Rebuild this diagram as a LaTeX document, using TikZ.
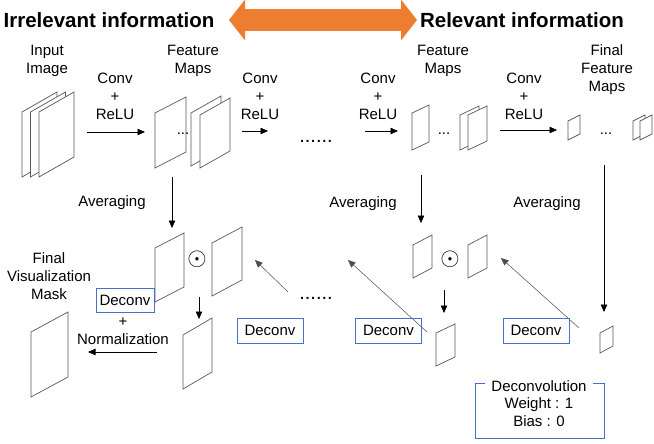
\documentclass[tikz,border=0pt]{standalone}
\usepackage{fontspec}
\setmainfont{Liberation Sans}
\usepackage{amssymb}
\usetikzlibrary{arrows.meta}

\definecolor{boxblue}{HTML}{4472C4}
\definecolor{arrorange}{HTML}{ED7D31}

\tikzset{
    fmap/.style={draw=black!65, line width=0.7pt, fill=white},
    arr/.style={-{Triangle[length=7.5pt,width=6.5pt]}, line width=0.6pt},
    thinarr/.style={arr, draw=black!70, line width=0.5pt},
    txt/.style={font=\fontsize{15}{18}\selectfont, align=center, inner sep=0pt},
    titletxt/.style={font=\fontsize{20.5}{24}\selectfont\bfseries, inner sep=0pt},
    deconvbox/.style={txt, draw=boxblue, line width=0.8pt, minimum width=66pt, minimum height=25pt},
    bigdots/.style={font=\fontsize{20}{20}\selectfont, inner sep=0pt},
    prodsym/.style={font=\fontsize{30}{30}\selectfont, inner sep=0pt},
}

% frame: name, x, y (lower left), width, height, slant
\newcommand{\fmap}[6]{%
    \draw[fmap] (#2,#3) -- ++(0,-#5) -- ++(#4,-#6) -- ++(0,#5) -- cycle;
    \coordinate (#1) at (#2+#4/2,#3-#5/2-#6/2);
}

\begin{document}
\begin{tikzpicture}[x=1pt,y=-1pt]
    \useasboundingbox (0,0) rectangle (654,444);

    % titles
    \node[titletxt] (irr) at (109,20) {Irrelevant information};
    \node[titletxt] (rel) at (522,20) {Relevant information};
    \coordinate (ltip) at (229,20);
    \coordinate (rtip) at (417,20);
    \draw[arrorange, line width=22pt, {Triangle[length=16pt,width=40pt]}-{Triangle[length=16pt,width=40pt]}] (ltip) -- (rtip);

    % forward pass
    \fmap{in1}{22}{177}{35}{65}{20}
    \fmap{in2}{30.5}{177}{35}{65}{20}
    \fmap{in3}{39}{177}{35}{65}{20}
    \fmap{fmA}{155}{168}{31}{55}{16}
    \fmap{fmB}{191}{166}{30}{53}{17}
    \fmap{fmC}{200}{168}{30}{53}{17}
    \fmap{fmD}{412}{150}{17}{37}{8}
    \fmap{fmE}{460}{150}{19}{35}{9}
    \fmap{fmF}{468}{150}{19}{35}{9}
    \fmap{finA}{568}{140}{12}{19}{6}
    \fmap{finB}{633}{140}{12}{19}{6}
    \fmap{finC}{640}{140}{12}{19}{6}

    \node[txt] (inlbl) at (47,61) {Input\\Image};
    \node[txt] (fm1lbl) at (193,61) {Feature\\Maps};
    \node[txt] (fm2lbl) at (443,61) {Feature\\Maps};
    \node[txt] (finlbl) at (607,70) {Final\\Feature\\Maps};

    \node[txt] (conv1) at (115,96) {Conv\\+\\ReLU};
    \node[txt] (conv2) at (260,96) {Conv\\+\\ReLU};
    \node[txt] (conv3) at (378,96) {Conv\\+\\ReLU};
    \node[txt] (conv4) at (524,96) {Conv\\+\\ReLU};

    \node[txt] (dotsA) at (183,134) {...};
    \node[txt] (dotsB) at (444,134) {...};
    \node[txt] (dotsC) at (606,134) {...};
    \node[bigdots] (dotsTop) at (316,141) {......};

    \coordinate (c1s) at (87,132);
    \coordinate (c1e) at (145,132);
    \coordinate (c2s) at (242,131);
    \coordinate (c2e) at (268,131);
    \coordinate (c3s) at (365,131);
    \coordinate (c3e) at (398,131);
    \coordinate (c4s) at (500,130);
    \coordinate (c4e) at (557,130);
    \draw[arr] (c1s) -- (c1e);
    \draw[arr] (c2s) -- (c2e);
    \draw[arr] (c3s) -- (c3e);
    \draw[arr] (c4s) -- (c4e);

    % averaging
    \node[txt] (avg1) at (112,203) {Averaging};
    \node[txt] (avg2) at (363,204) {Averaging};
    \node[txt] (avg3) at (547,204) {Averaging};
    \coordinate (a1s) at (172,177);
    \coordinate (a1e) at (172,228);
    \coordinate (a2s) at (421,175);
    \coordinate (a2e) at (421,223);
    \coordinate (a3s) at (604,165);
    \coordinate (a3e) at (604,312);
    \draw[arr] (a1s) -- (a1e);
    \draw[arr] (a2s) -- (a2e);
    \draw[arr] (a3s) -- (a3e);

    % backward pass
    \fmap{avA}{155}{302}{29}{54}{15}
    \fmap{upA}{212}{296}{30}{53}{16}
    \fmap{resA}{183}{389}{29}{54}{17}
    \fmap{avB}{413}{278}{19}{33}{10}
    \fmap{upB}{468}{278}{19}{33}{10}
    \fmap{resB}{436}{366}{19}{33}{9}
    \fmap{resC}{600}{353}{13}{20}{7}
    \fmap{mask}{31}{397}{37}{65}{20}

    \node[prodsym] (odotA) at (197,259) {$\odot$};
    \node[prodsym] (odotB) at (450,259) {$\odot$};
    \node[bigdots] (dotsBot) at (316,298) {......};

    \coordinate (m1s) at (199,297);
    \coordinate (m1e) at (199,319);
    \coordinate (m2s) at (444,290);
    \coordinate (m2e) at (444,313);
    \draw[arr] (m1s) -- (m1e);
    \draw[arr] (m2s) -- (m2e);

    \coordinate (d1s) at (288,292);
    \coordinate (d1e) at (255,260);
    \coordinate (d2s) at (427,332);
    \coordinate (d2e) at (348,260);
    \coordinate (d3s) at (579,328);
    \coordinate (d3e) at (501,258);
    \draw[thinarr] (d1s) -- (d1e);
    \draw[thinarr] (d2s) -- (d2e);
    \draw[thinarr] (d3s) -- (d3e);

    \node[deconvbox] (dc2) at (270,330.5) {Deconv};
    \node[deconvbox] (dc3) at (388.5,330.5) {Deconv};
    \node[deconvbox] (dc4) at (536,330.5) {Deconv};

    \node[deconvbox, minimum width=58pt, minimum height=24pt] (dc1) at (125,300) {Deconv};
    \node[txt] (norm) at (123,331) {+\\Normalization};
    \coordinate (ns) at (157,352);
    \coordinate (ne) at (88,352);
    \draw[arr] (ns) -- (ne);

    \node[txt] (masklbl) at (49,276) {Final\\Visualization\\Mask};

    % deconvolution settings
    \node[draw=boxblue, line width=0.8pt, minimum width=129pt, minimum height=55pt, inner sep=0pt] (dcbox) at (539.5,410.5) {};
    \node[txt, fill=white, inner xsep=6pt, inner ysep=1pt] (dctitle) at (539,386) {Deconvolution};
    \node[txt] (dcparams) at (539,412.5) {Weight : 1\\Bias : 0};
\end{tikzpicture}
\end{document}
